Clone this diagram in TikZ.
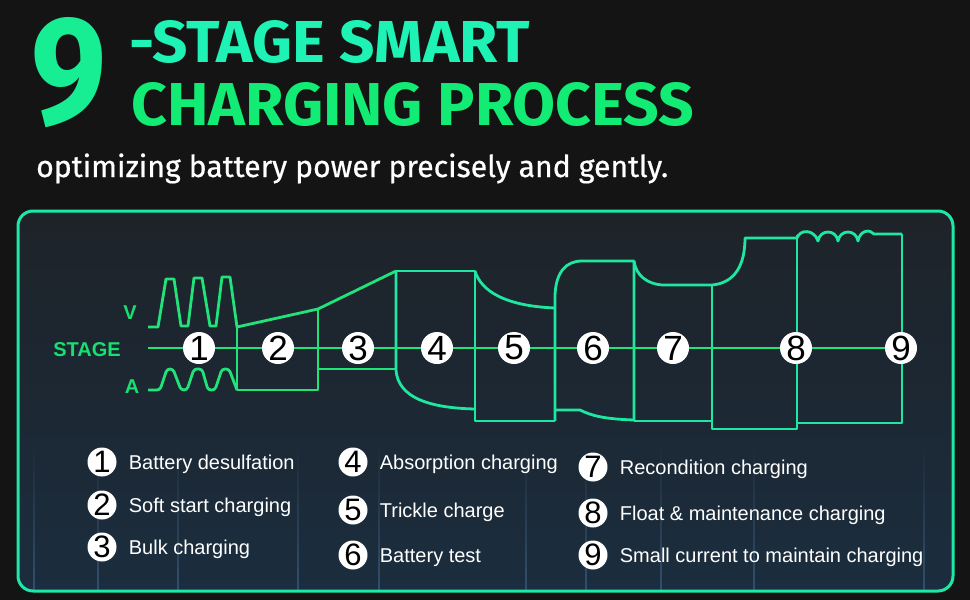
\documentclass[tikz,border=0pt]{standalone}
\usepackage{fontspec}
\setmainfont{Liberation Sans}
\newfontfamily\titlefont{Fira Sans}
\newfontfamily\subfont{Fira Sans}[FakeBold=0.6]
\usetikzlibrary{positioning}
\definecolor{bgdark}{HTML}{141414}
\definecolor{paneltop}{HTML}{1E2329}
\definecolor{panelbot}{HTML}{1B2D3E}
\definecolor{panelrim}{HTML}{1EE8A6}
\definecolor{wavegreen}{HTML}{22E27A}
\definecolor{waveteal}{HTML}{1FE6A0}
\definecolor{labelgreen}{HTML}{18E070}
\definecolor{titlenine}{HTML}{17EE94}
\definecolor{titleone}{HTML}{1EF2B4}
\definecolor{titletwo}{HTML}{12EB74}
\definecolor{streakblue}{HTML}{3A5E80}
\newcommand{\HeadFont}{\titlefont\bfseries}
\tikzstyle{stagedot} = [circle, fill=white, inner sep=0pt, minimum size=32pt, font=\fontsize{35}{35}\selectfont]
\tikzstyle{legdot} = [circle, fill=white, inner sep=0pt, minimum size=29pt, font=\fontsize{31}{31}\selectfont]
\tikzstyle{legtext} = [inner sep=0pt, text=white, text height=14.4pt, text depth=0pt, font=\fontsize{20}{20}\selectfont]
\tikzstyle{sidelabel} = [inner sep=0pt, text=labelgreen, font=\bfseries\fontsize{20}{20}\selectfont]

\begin{document}
\begin{tikzpicture}[x=1pt, y=-1pt,
    wave/.style={line width=2.8pt, color=wavegreen, line join=round},
    wavet/.style={wave, color=waveteal},
    streak/.style={top color=panelbot!60!paneltop, bottom color=streakblue!70!panelbot}]
\useasboundingbox (0,0) rectangle (970,600);
\fill[bgdark] (0,0) rectangle (970,600);

% Panel
\shade[rounded corners=15pt, top color=paneltop, bottom color=panelbot] (18,211) rectangle (953,591);
\foreach \x in {33, 97, 177, 297, 378, 525, 585, 660, 753, 923}
  \shade[streak] (\x,440) rectangle (\x+1.6,590);
\draw[panelrim, line width=3pt, rounded corners=15pt] (18,211) rectangle (953,591);

% Title
\node[anchor=south west, inner sep=0pt, text=titlenine] (nine) at (31,128) {\resizebox{75pt}{106pt}{\HeadFont 9}};
\node[anchor=south west, inner sep=0pt, text=titleone] (headA) at (129,64) {\resizebox{401pt}{42pt}{\HeadFont -STAGE SMART}};
\node[anchor=south west, inner sep=0pt, text=titletwo] (headB) at (131,127) {\resizebox{563pt}{43pt}{\HeadFont CHARGING PROCESS}};
\node[anchor=base west, inner sep=0pt, text=white] (sub) at (36,177) {\resizebox{632pt}{!}{\subfont\fontsize{28}{28}\selectfont optimizing battery power precisely and gently.}};

% Side labels
\node[sidelabel] (vlab) at (130,313) {V};
\node[sidelabel] (stagelab) at (87,350) {STAGE};
\node[sidelabel] (alab) at (132,387) {A};

% Voltage and current curves, stages 1--3
\draw[wave] (148,327) -- (158,327) -- (166,279) -- (174,279) -- (181,326) -- (188,326) -- (194,278) -- (202,278) -- (210,326) -- (216,326) -- (222,277) -- (230,277) -- (237,327) -- (318,309) -- (396,271);
\draw[wave, rounded corners=3pt] (148,390) -- (160,390) -- (167,369) -- (173,369) -- (181,390) -- (187,390) -- (194,369) -- (202,369) -- (208,390) -- (215,390) -- (222,369) -- (229,369) -- (237,390);
\draw[wave] (237,327) -- (237,390) -- (318,390) -- (318,309);
\draw[wave] (318,369) -- (396,369);

% Stages 4--9
\draw[wavet] (396,271) -- (396,370) .. controls (398,398) and (430,408) .. (475,409);
\draw[wavet] (396,271) -- (475,271) -- (475,421) -- (555,421);
\draw[wavet] (475,271) .. controls (481,291) and (505,306) .. (555,308);
\draw[wavet] (555,421) -- (555,295) .. controls (556,272) and (566,261) .. (582,261) -- (634,261) -- (634,421);
\draw[wavet] (555,410) -- (580,410) .. controls (592,416) and (605,419) .. (634,420);
\draw[wavet] (634,261) .. controls (636,276) and (648,284) .. (662,285) -- (712,285)
  .. controls (735,283) and (745,265) .. (745,238) -- (797,238);
\draw[wavet] (634,421) -- (712,421);
\draw[wavet] (712,285) -- (712,429) -- (797,429) -- (797,235);
\draw[wavet] (797,423) -- (902,423) -- (902,234);
\draw[wavet] (797,238) .. controls (800,229) and (814,229) .. (818,241)
  .. controls (820,229) and (836,229) .. (838,241)
  .. controls (840,229) and (856,229) .. (858,241)
  .. controls (860,230) and (870,229) .. (874,234) -- (902,234);

% Stage axis
\coordinate (axisL) at (148,348);
\coordinate (axisR) at (901,348);
\draw[wave] (axisL) -- (axisR);

% Stage markers
\foreach \n/\x in {1/199, 2/278, 3/358, 4/437, 5/514, 6/593, 7/673, 8/796, 9/901}
  \node[stagedot] (s\n) at (\x,348) {\n};

% Legend
\foreach \n/\x/\y/\txt in {1/102/462/{Battery desulfation}, 2/102/505/{Soft start charging}, 3/102/547/{Bulk charging},
    4/353/462/{Absorption charging}, 5/353/510/{Trickle charge}, 6/353/555/{Battery test},
    7/593/467/{Recondition charging}, 8/593/513/{Float \& maintenance charging}, 9/593/555/{Small current to maintain charging}}
{
  \node[legdot] (l\n) at (\x,\y) {\n};
  \node[legtext, right=12pt of l\n] (t\n) {\txt};
}
\end{tikzpicture}
\end{document}
